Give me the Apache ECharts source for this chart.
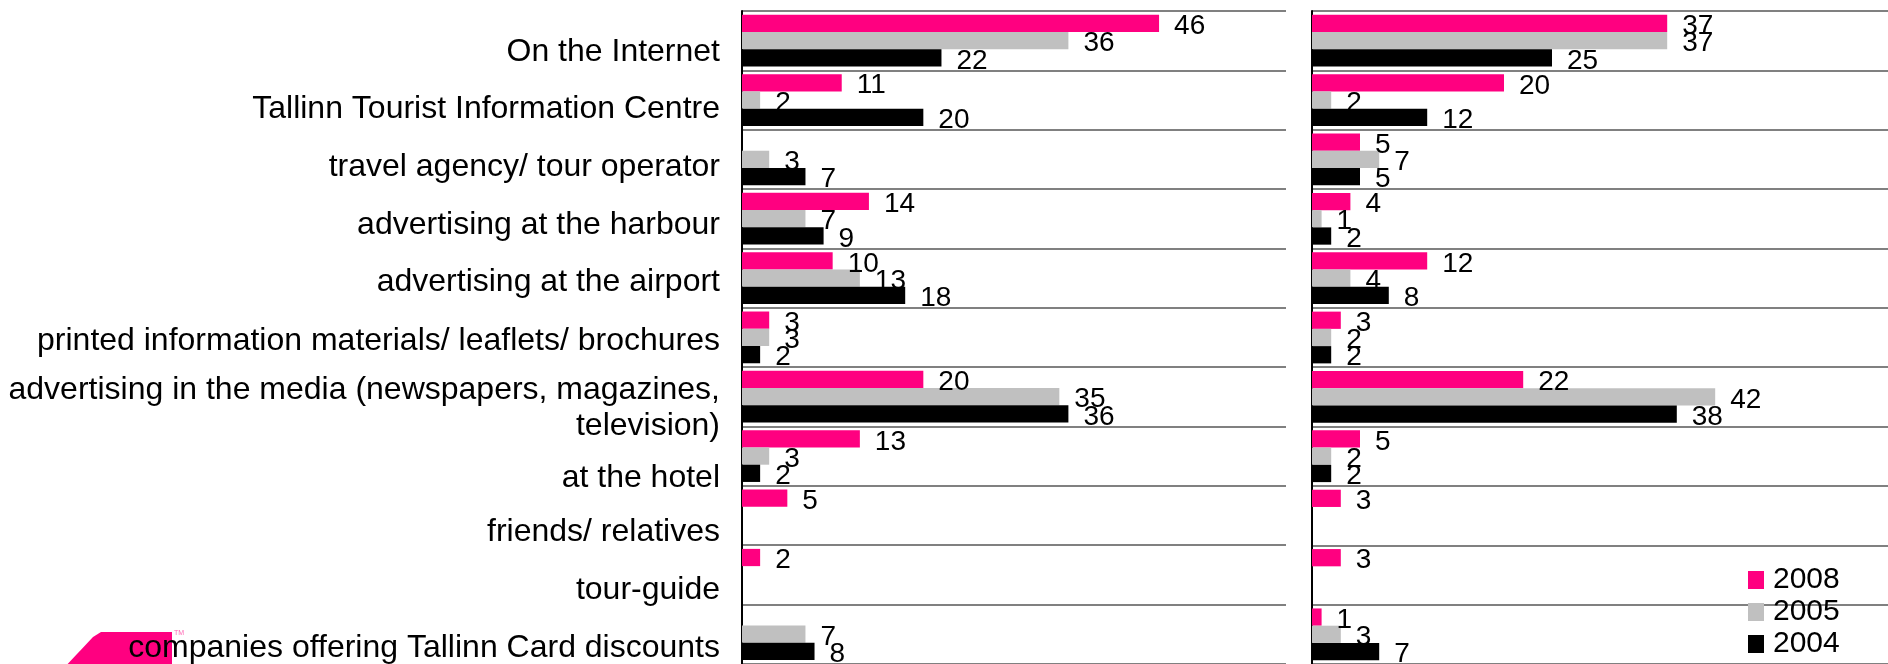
<!DOCTYPE html>
<html><head><meta charset="utf-8">
<script src="https://cdn.jsdelivr.net/npm/echarts@6/dist/echarts.min.js"></script>
<style>html,body{margin:0;padding:0;background:#fff;overflow:hidden}#c{width:1888px;height:664px}</style>
</head><body><div id="c"></div>
<script>
const categories = [
  'On the Internet',
  'Tallinn Tourist Information Centre',
  'travel agency/ tour operator',
  'advertising at the harbour',
  'advertising at the airport',
  'printed information materials/ leaflets/ brochures',
  'advertising in the media (newspapers, magazines,\ntelevision)',
  'at the hotel',
  'friends/ relatives',
  'tour-guide',
  'companies offering Tallinn Card discounts'
];
const years = ['2008', '2005', '2004'];
const left2008 = [46, 11, null, 14, 10, 3, 20, 13, 5, 2, null];
const left2005 = [36, 2, 3, 7, 13, 3, 35, 3, null, null, 7];
const left2004 = [22, 20, 7, 9, 18, 2, 36, 2, null, null, 8];
const right2008 = [37, 20, 5, 4, 12, 3, 22, 5, 3, 3, 1];
const right2005 = [37, 2, 7, 1, 4, 2, 42, 2, null, null, 3];
const right2004 = [25, 12, 5, 2, 8, 2, 38, 2, null, null, 7];

// vertical nudge of each category label (style only)
const labelShift = [12, 9, 8, 6, 4, 4, 11, 22, 17, 15, 14];

const FONT = '"Liberation Sans", Arial, sans-serif';
const colors = ['#ff0080', '#c0c0c0', '#000000'];

const rich = {};
labelShift.forEach((d, i) => {
  rich['s' + i] = {fontFamily: FONT, fontSize: 32, lineHeight: 36, color: '#000',
    align: 'right', padding: [2 * d, 0, 0, 0]};
});

const chart = echarts.init(document.getElementById('c'), null, {renderer: 'canvas'});

function yAx(gridIndex, showLabels) {
  return {
    type: 'category', gridIndex: gridIndex, inverse: true, data: categories,
    axisLine: {show: true, lineStyle: {color: '#000', width: 2}},
    axisTick: {show: false},
    splitLine: {show: true, interval: 0, lineStyle: {color: '#808080', width: 2}},
    axisLabel: {show: showLabels, interval: 0, margin: 22, color: '#000',
      fontFamily: FONT, fontSize: 32, lineHeight: 36, align: 'right',
      formatter: function (v, i) {
        return v.split('\n').map(line => '{s' + i + '|' + line + '}').join('\n');
      },
      rich: rich}
  };
}
function xAx(gridIndex) {
  return {type: 'value', gridIndex: gridIndex, min: 0, max: 60, show: false, splitLine: {show: false}};
}
function ser(name, data, idx, color) {
  return {
    name: name, type: 'bar', data: data, xAxisIndex: idx, yAxisIndex: idx,
    itemStyle: {color: color},
    barGap: '0%', barCategoryGap: '12.8%',
    label: {show: true, position: 'right', distance: 15, offset: [0, 3], color: '#000',
      fontFamily: FONT, fontSize: 28},
    animation: false
  };
}

chart.setOption({
  animation: false,
  textStyle: {fontFamily: FONT},
  grid: [
    {left: 742, top: 11, width: 544, height: 655},
    {left: 1312, top: 11, width: 585, height: 655}
  ],
  xAxis: [xAx(0), xAx(1)],
  yAxis: [yAx(0, true), yAx(1, false)],
  legend: {
    data: years, orient: 'vertical', left: 1748, top: 564, padding: 0, height: 200,
    icon: 'rect', itemWidth: 16, itemHeight: 18, itemGap: 0,
    textStyle: {color: '#000', fontFamily: FONT, fontSize: 30, lineHeight: 32, padding: [0, 0, 0, 4]}
  },
  graphic: [
    {type: 'polygon', z: -10, shape: {points: [[172, 632], [101, 632], [93, 637], [62, 670], [172, 670]]},
      style: {fill: '#ff0080'}},
    {type: 'text', z: -10, left: 174, top: 630, style: {text: 'TM', fill: '#ff66b3', fontSize: 7, fontFamily: FONT}}
  ],
  series: [
    ser('2008', left2008, 0, colors[0]),
    ser('2005', left2005, 0, colors[1]),
    ser('2004', left2004, 0, colors[2]),
    ser('2008', right2008, 1, colors[0]),
    ser('2005', right2005, 1, colors[1]),
    ser('2004', right2004, 1, colors[2])
  ]
});
</script></body></html>
